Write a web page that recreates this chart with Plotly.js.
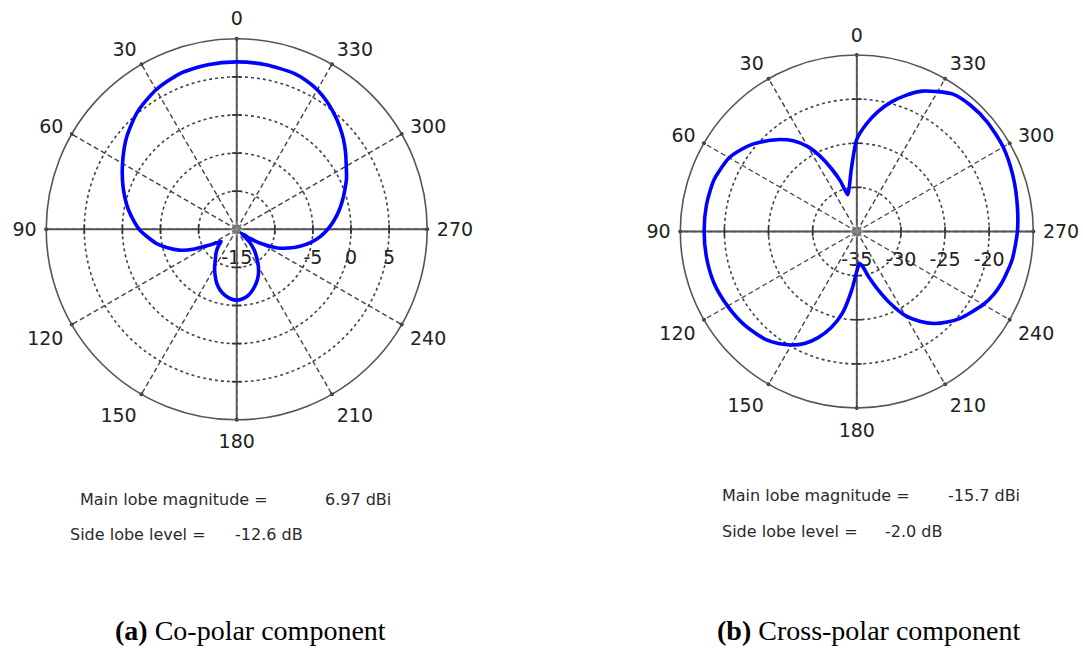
<!DOCTYPE html>
<html><head><meta charset="utf-8">
<script src="https://cdn.plot.ly/plotly-3.0.1.min.js"></script>
<style>html,body{margin:0;padding:0;background:#fff}#chart{width:1083px;height:650px}</style>
</head><body><div id="chart"></div>
<script>
// ---- data ----
const angleTicks = [0,30,60,90,120,150,180,210,240,270,300,330];
const angleLabels = ['0','30','60','90','120','150','180','210','240','270','300','330'];

const thetaCo = [0,10,20,30,40,50,60,70,80,90,100,105,110,115,120,125,128,132,138,145,150,155,160,165,170,175,180,185,190,195,200,205,210,215,220,225,230,235,240,245,250,255,260,265,270,275,280,285,290,295,300,305,310,315,320,325,330,335,340,350];
const rCo = [6.97,6.93,6.75,6.15,5.2,3.85,2.3,0.85,-0.6,-2.2,-4.3,-5.6,-7.0,-8.9,-10.9,-12.0,-12.4,-11.8,-11.0,-10.1,-9.2,-8.3,-7.4,-6.7,-6.2,-5.85,-5.7,-5.85,-6.2,-6.8,-7.5,-8.3,-9.3,-10.4,-11.4,-12.6,-14.2,-13.0,-11.2,-9.3,-7.8,-6.4,-5.1,-4.0,-3.05,-2.2,-1.4,-0.65,0.1,0.9,1.6,2.45,3.3,4.1,4.85,5.55,6.15,6.55,6.8,6.93];

const thetaCross = [0,5,10,14,18,22,26,30,35,40,45,50,55,60,70,80,90,100,110,120,130,140,145,150,155,160,165,170,175,180,185,190,195,200,205,210,215,220,225,230,235,240,245,250,255,260,270,280,290,300,310,318,325,330,335,340,345,350,355];
const rCross = [-24.55,-27.9,-30.0,-30.7,-29.0,-27.3,-25.5,-23.9,-22.45,-21.4,-20.5,-19.6,-18.9,-18.3,-17.8,-17.7,-17.7,-17.72,-17.8,-18.1,-18.45,-19.0,-19.5,-20.15,-21.0,-22.2,-23.7,-25.6,-28.3,-30.5,-31.35,-30.9,-29.6,-28.0,-26.0,-24.0,-22.6,-21.4,-20.5,-19.7,-19.1,-18.45,-17.95,-17.6,-17.35,-17.1,-16.8,-16.55,-16.2,-15.85,-15.7,-15.75,-16.0,-16.7,-17.45,-18.55,-19.8,-21.2,-22.8];

const radialRangeCo = [-15, 10];
const radialTicksCo = [-15,-10,-5,0,5];
const radialLabelsCo = ['-15','','-5','0','5'];
const radialRangeCross = [-35, -15];
const radialTicksCross = [-35,-30,-25,-20];
const radialLabelsCross = ['-35','-30','-25','-20'];

const infoCo = ['Main lobe magnitude =', '6.97 dBi', 'Side lobe level =', '-12.6 dB'];
const infoCross = ['Main lobe magnitude =', '-15.7 dBi', 'Side lobe level =', '-2.0 dB'];
const captions = ['<b>(a)</b> Co-polar component', '<b>(b)</b> Cross-polar component'];

// ---- styling helpers ----
const AXC = '#555';
const labelFont = {family:'DejaVu Sans, sans-serif', size:19, color:'#222'};

function closed(a){ return a.concat([a[0]]); }

function patternTrace(theta, r, sub){
  return {type:'scatterpolar', subplot:sub, mode:'lines', theta:closed(theta), r:closed(r),
    line:{color:'#0000ff', width:3.6, shape:'spline', smoothing:0.7}, hoverinfo:'skip', showlegend:false};
}
function crossTraces(range, ticks, sub){
  const rmin = range[0], rmax = range[1];
  const out = [];
  out.push({type:'scatterpolar', subplot:sub, mode:'lines', r:[rmax,rmin,rmax], theta:[0,0,180],
    line:{color:AXC, width:1.9}, hoverinfo:'skip', showlegend:false});
  out.push({type:'scatterpolar', subplot:sub, mode:'lines', r:[rmax,rmin,rmax], theta:[90,90,270],
    line:{color:AXC, width:1.9}, hoverinfo:'skip', showlegend:false});
  const inner = ticks.filter(v => v > rmin && v < rmax);
  const rv = [], tv = [], rh = [], th = [];
  inner.forEach(v => { rv.push(v, v); tv.push(0, 180); rh.push(v, v); th.push(90, 270); });
  out.push({type:'scatterpolar', subplot:sub, mode:'markers', r:rv, theta:tv,
    marker:{symbol:'line-ew', size:7, color:'#333', line:{color:'#333', width:1.6}}, hoverinfo:'skip', showlegend:false});
  out.push({type:'scatterpolar', subplot:sub, mode:'markers', r:rh, theta:th,
    marker:{symbol:'line-ns', size:7, color:'#333', line:{color:'#333', width:1.6}}, hoverinfo:'skip', showlegend:false});
  // small dots on the outer circle at every angular tick
  out.push({type:'scatterpolar', subplot:sub, mode:'markers', r:angleTicks.map(() => rmax), theta:angleTicks,
    marker:{symbol:'circle', size:4, color:'#333'}, hoverinfo:'skip', showlegend:false, cliponaxis:false});
  out.push({type:'scatterpolar', subplot:sub, mode:'markers', r:[rmin], theta:[0],
    marker:{symbol:'asterisk-open', size:11, color:'#888', line:{color:'#888', width:1.5}}, hoverinfo:'skip', showlegend:false});
  return out;
}
function polarLayout(dx, dy, range, tickvals, ticktext){
  return {
    domain:{x:dx, y:dy}, bgcolor:'#fff', hole:0,
    angularaxis:{rotation:90, direction:'counterclockwise', tickmode:'array',
      tickvals:angleTicks, ticktext:angleLabels, showline:true, linecolor:AXC, linewidth:1.6,
      showgrid:true, gridcolor:'#444', gridwidth:1.4, griddash:'5px,3px',
      ticks:'outside', ticklen:5, tickwidth:1, tickcolor:'rgba(0,0,0,0)', tickfont:labelFont},
    radialaxis:{range:range, tickmode:'array', tickvals:tickvals, ticktext:ticktext,
      angle:0, side:'clockwise', showline:false, showgrid:true, gridcolor:'#444',
      gridwidth:1.6, griddash:'3px,3px', ticks:'outside', ticklen:11,
      tickcolor:'rgba(0,0,0,0)', tickfont:labelFont, layer:'below traces'}
  };
}
function W(px){ return px/1083; }
function H(py){ return (650-py)/650; }
function note(text, x, y, font){
  return {text:text, x:W(x), y:H(y), xref:'paper', yref:'paper', xanchor:'left', yanchor:'middle',
    showarrow:false, font:font};
}

const infoFont = {family:'DejaVu Sans, sans-serif', size:16, color:'#2a2a2a'};
const capFont = {family:'Liberation Serif, Times New Roman, serif', size:28, color:'#000'};

const data = [].concat(
  crossTraces(radialRangeCo, radialTicksCo, 'polar'),
  [patternTrace(thetaCo, rCo, 'polar')],
  crossTraces(radialRangeCross, radialTicksCross, 'polar2'),
  [patternTrace(thetaCross, rCross, 'polar2')]
);

const layout = {
  width:1083, height:650, margin:{l:0,r:0,t:0,b:0},
  paper_bgcolor:'#fff', showlegend:false,
  polar: polarLayout([W(46.2), W(427.2)], [H(419.8), H(38.8)], radialRangeCo, radialTicksCo, radialLabelsCo),
  polar2: polarLayout([W(680.3), W(1033.3)], [H(408), H(55)], radialRangeCross, radialTicksCross, radialLabelsCross),
  annotations:[
    note(infoCo[0], 78, 499, infoFont), note(infoCo[1], 323, 499, infoFont),
    note(infoCo[2], 68, 534, infoFont), note(infoCo[3], 233, 534, infoFont),
    note(infoCross[0], 720, 495, infoFont), note(infoCross[1], 946, 495, infoFont),
    note(infoCross[2], 720, 531, infoFont), note(infoCross[3], 883, 531, infoFont),
    note(captions[0], 113, 630, capFont), note(captions[1], 715, 630, capFont)
  ]
};

Plotly.newPlot('chart', data, layout, {staticPlot:true, displayModeBar:false});
</script>
</body></html>
